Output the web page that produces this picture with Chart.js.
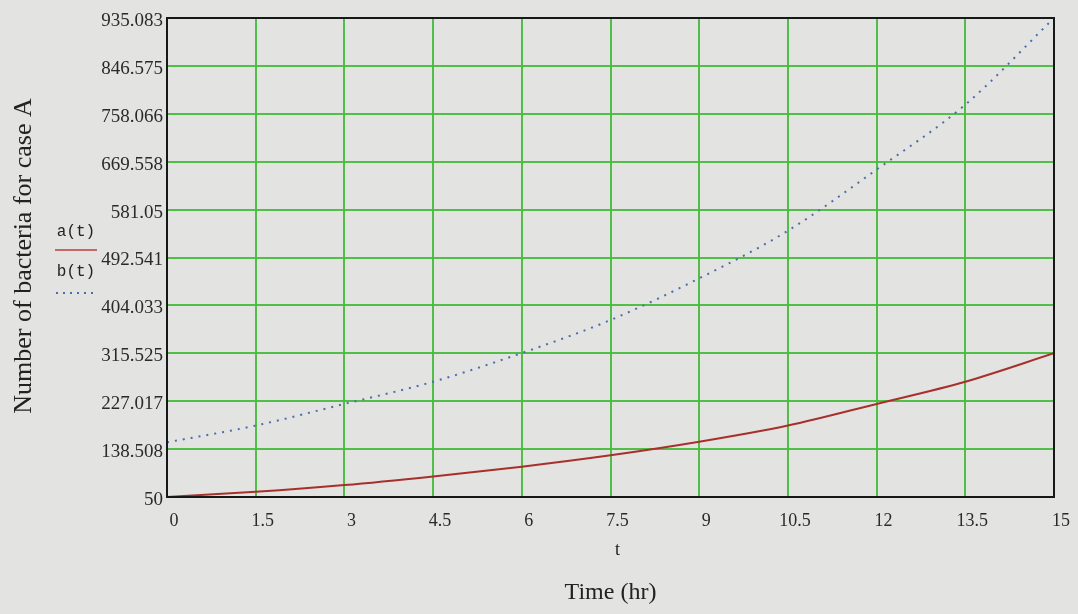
<!DOCTYPE html>
<html>
<head>
<meta charset="utf-8">
<script src="https://cdn.jsdelivr.net/npm/chart.js@4/dist/chart.umd.min.js"></script>
<style>
	html, body { margin:0; padding:0; background:#e3e3e1; }
	#wrap { position:relative; width:1078px; height:614px; }
</style>
</head>
<body>
<div id="wrap"><canvas id="c" width="1078" height="614"></canvas></div>
<script>
// time (hr)
const tValues = [0, 1.5, 3, 4.5, 6, 7.5, 9, 10.5, 12, 13.5, 15];
// a(t), solid red
const aValues = [50, 59.5, 72, 88, 106, 127, 152, 182, 222, 263, 315.5];
// b(t), dotted blue
const bValues = [151, 182, 222, 263, 316, 377, 454, 542, 655, 775, 935.083];

const xTicks = [0, 1.5, 3, 4.5, 6, 7.5, 9, 10.5, 12, 13.5, 15];
const yTicks = [50, 138.508, 227.017, 315.525, 404.033, 492.541, 581.05, 669.558, 758.066, 846.575, 935.083];
const yTickLabels = ['50', '138.508', '227.017', '315.525', '404.033', '492.541', '581.05', '669.558', '758.066', '846.575', '935.083'];

const serif = '"Liberation Serif", "Times New Roman", serif';
const green = 'rgba(72,188,62,0.95)';

const pts = v => tValues.map((t, i) => ({x:t, y:v[i]}));

// background, frame, legend and axis titles (mathcad style)
const extras = {
	id:'extras',
	beforeDraw: c => {
		const x = c.ctx;
		x.save();
		x.fillStyle = '#e3e3e1';
		x.fillRect(0, 0, c.width, c.height);
		x.restore();
	},
	afterDatasetsDraw: c => {
		const x = c.ctx, a = c.chartArea;
		x.save();
		x.strokeStyle = '#151a18';
		x.lineWidth = 2;
		x.strokeRect(a.left, a.top, a.right - a.left, a.bottom - a.top);
		x.restore();
	},
	afterDraw: c => {
		const x = c.ctx, a = c.chartArea;
		x.save();
		x.fillStyle = '#222';
		x.textAlign = 'center';
		x.textBaseline = 'middle';

		x.font = '18px ' + serif;
		x.fillText('t', (a.left + a.right) / 2 + 7, 550);
		x.font = '24px ' + serif;
		x.fillText('Time (hr)', (a.left + a.right) / 2, 593);

		x.font = '26px ' + serif;
		x.translate(24, 256);
		x.rotate(-Math.PI / 2);
		x.fillText('Number of bacteria for case A', 0, 0);
		x.setTransform(1, 0, 0, 1, 0, 0);

		// legend
		x.font = '16px "Liberation Mono", monospace';
		x.fillText('a(t)', 76, 232);
		x.fillText('b(t)', 76, 272);
		x.strokeStyle = '#b8403c';
		x.lineWidth = 1.5;
		x.beginPath(); x.moveTo(55, 250); x.lineTo(97, 250); x.stroke();
		x.strokeStyle = '#4a6cb0';
		x.lineWidth = 2;
		x.setLineDash([2, 5]);
		x.beginPath(); x.moveTo(56, 293); x.lineTo(94, 293); x.stroke();
		x.restore();
	}
};

new Chart(document.getElementById('c'), {
	type:'line',
	data:{
		datasets:[{
			label:'a(t)',
			data:pts(aValues),
			borderColor:'#a8302c',
			borderWidth:2,
			pointRadius:0,
			cubicInterpolationMode:'monotone',
		},
		{
			label:'b(t)',
			data:pts(bValues),
			borderColor:'#4a6cb0',
			borderWidth:2,
			borderDash:[2, 6],
			pointRadius:0,
			cubicInterpolationMode:'monotone',
		}]
	},
	options:{
		responsive:false,
		animation:false,
		layout:{ padding:{top:18, right:24, left:0, bottom:0} },
		plugins:{
			legend:{ display:false },
			tooltip:{ enabled:false },
		},
		scales:{
			x:{
				type:'linear',
				min:0,
				max:15,
				afterBuildTicks: s => { s.ticks = xTicks.map(v => ({value:v})) },
				afterFit: s => { s.height = 117 },
				border:{ display:false },
				grid:{ color:green, lineWidth:2, drawTicks:false },
				ticks:{
					color:'#2a2a2a',
					padding:13,
					labelOffset:7,
					maxRotation:0,
					autoSkip:false,
					font:{ family:serif, size:18 },
					callback: v => String(v),
				}
			},
			y:{
				min:50,
				max:935.083,
				afterBuildTicks: s => { s.ticks = yTicks.map(v => ({value:v})) },
				afterFit: s => { s.width = 167 },
				border:{ display:false },
				grid:{ color:green, lineWidth:2, drawTicks:false },
				ticks:{
					color:'#2a2a2a',
					padding:4,
					labelOffset:3,
					autoSkip:false,
					font:{ family:serif, size:19 },
					callback: (v, i) => yTickLabels[i],
				}
			}
		}
	},
	plugins:[extras]
});
</script>
</body>
</html>
